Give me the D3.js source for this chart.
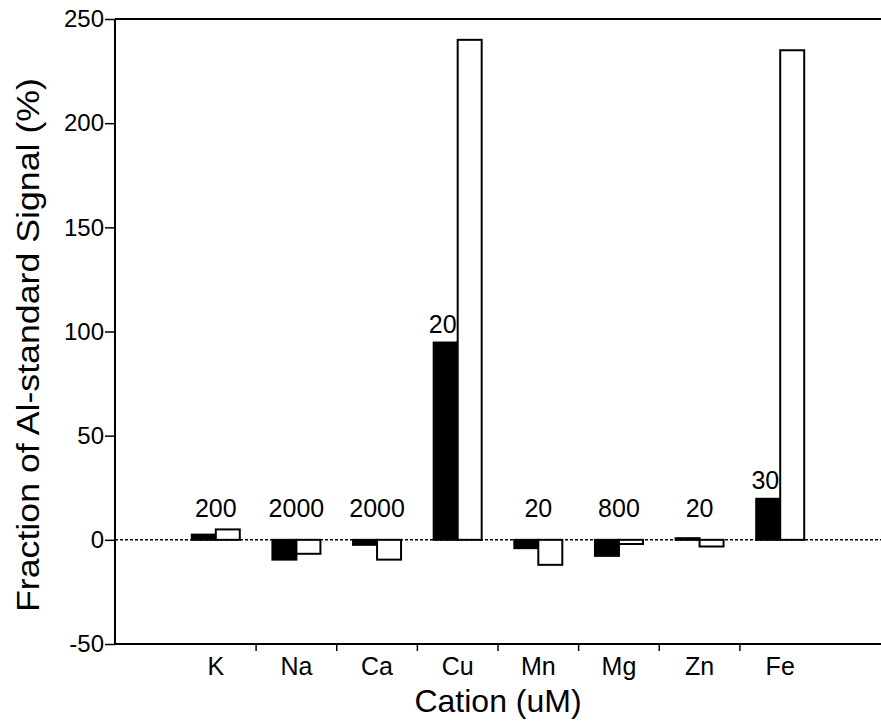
<!DOCTYPE html>
<html>
<head>
<meta charset="utf-8">
<script src="https://cdn.jsdelivr.net/npm/d3@7"></script>
<style>
  body { margin: 0; background: #fff; }
  svg { display: block; font-family: "Liberation Sans", Arial, Helvetica, sans-serif; }
</style>
</head>
<body>
<svg id="chart" width="881" height="723"></svg>
<script>
// cations and measured signal (% of Al standard)
const cations = ['K', 'Na', 'Ca', 'Cu', 'Mn', 'Mg', 'Zn', 'Fe'];
const series = ['filled', 'open'];
const filledValues = [2.5, -9.5, -2.4, 94.7, -4, -7.7, 0.8, 19.7];
const openValues = [5, -6.7, -9.5, 240, -12, -2, -3.2, 235];
const concLabels = ['200', '2000', '2000', '20', '20', '800', '20', '30'];
const yTicks = [-50, 0, 50, 100, 150, 200, 250];

const chartW = 881, chartH = 723;
const plotLeft = 115, plotTop = 19, plotBottom = 644;

const svg = d3.select('#chart');

const x = d3.scaleBand()
    .domain(cations)
    .range([plotLeft, chartW])
    .paddingInner(0)
    .paddingOuter(0.75);

const x1 = d3.scaleBand()
    .domain(series)
    .range([0, x.bandwidth()])
    .paddingInner(0)
    .paddingOuter(0.68);

const y = d3.scaleLinear()
    .domain([-50, 250])
    .range([plotBottom, plotTop]);

const rows = cations.map((c, i) => ({
    cation: c,
    filled: filledValues[i],
    open: openValues[i],
    label: concLabels[i]
}));

// zero reference line (dotted)
svg.append('line')
    .attr('x1', plotLeft).attr('x2', chartW)
    .attr('y1', y(0)).attr('y2', y(0))
    .attr('stroke', '#000')
    .attr('stroke-width', 1.5)
    .attr('stroke-dasharray', '3,2');

// bars
const groups = svg.selectAll('g.cat')
    .data(rows)
    .join('g')
    .attr('class', 'cat')
    .attr('transform', d => `translate(${x(d.cation)},0)`);

groups.selectAll('rect')
    .data(d => series.map(s => ({ key: s, value: d[s] })))
    .join('rect')
    .attr('x', d => x1(d.key))
    .attr('width', x1.bandwidth())
    .attr('y', d => y(Math.max(0, d.value)))
    .attr('height', d => Math.abs(y(d.value) - y(0)))
    .attr('fill', d => d.key === 'filled' ? '#000' : '#fff')
    .attr('stroke', '#000')
    .attr('stroke-width', 2);

// concentration labels
groups.append('text')
    .attr('x', d => d.filled > 15 ? x1('filled') + x1.bandwidth() - 1 : x.bandwidth() / 2)
    .attr('y', d => d.filled > 15 ? y(d.filled) - 10 : y(11))
    .attr('text-anchor', d => d.filled > 15 ? 'end' : 'middle')
    .attr('font-size', 25)
    .text(d => d.label);

// y axis
const yAxis = d3.axisLeft(y)
    .tickValues(yTicks)
    .tickSize(10)
    .tickPadding(1)
    .tickFormat(d => String(d));

svg.append('g')
    .attr('transform', `translate(${plotLeft},0)`)
    .call(yAxis)
    .call(g => g.select('.domain').attr('stroke-width', 2).attr('d', `M0,${plotTop}V${plotBottom}`))
    .call(g => g.selectAll('line').attr('stroke-width', 1.5))
    .call(g => g.selectAll('text').attr('font-size', 24).attr('fill', '#000'));

// top frame
svg.append('line')
    .attr('x1', plotLeft).attr('x2', chartW)
    .attr('y1', y(250)).attr('y2', y(250))
    .attr('stroke', '#000').attr('stroke-width', 2);

// x axis: ticks between categories, labels at centres
const xAxisG = svg.append('g');
xAxisG.append('line')
    .attr('x1', plotLeft).attr('x2', chartW)
    .attr('y1', plotBottom).attr('y2', plotBottom)
    .attr('stroke', '#000').attr('stroke-width', 2);

xAxisG.selectAll('line.sep')
    .data(cations.slice(1))
    .join('line')
    .attr('class', 'sep')
    .attr('x1', d => x(d)).attr('x2', d => x(d))
    .attr('y1', plotBottom).attr('y2', plotBottom + 7)
    .attr('stroke', '#000').attr('stroke-width', 1.5);

xAxisG.selectAll('text')
    .data(cations)
    .join('text')
    .attr('x', d => x(d) + x.bandwidth() / 2)
    .attr('y', plotBottom + 31)
    .attr('text-anchor', 'middle')
    .attr('font-size', 25)
    .text(d => d);

// axis titles
svg.append('text')
    .attr('x', 498)
    .attr('y', 712)
    .attr('text-anchor', 'middle')
    .attr('font-size', 32)
    .text('Cation (uM)');

svg.append('text')
    .attr('transform', 'translate(39,345) rotate(-90)')
    .attr('text-anchor', 'middle')
    .attr('font-size', 32)
    .attr('textLength', 534)
    .attr('lengthAdjust', 'spacingAndGlyphs')
    .text('Fraction of Al-standard Signal (%)');
</script>
</body>
</html>
